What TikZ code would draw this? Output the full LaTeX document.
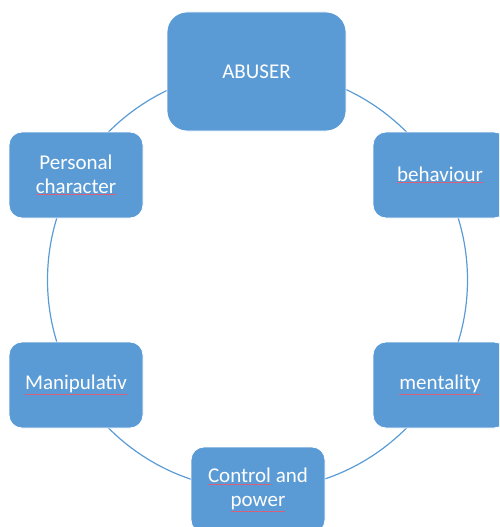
\documentclass[tikz,border=0pt]{standalone}
\usepackage{fontspec}
\setmainfont{Carlito}
\definecolor{boxblue}{HTML}{5B9BD5}
\definecolor{spell}{HTML}{D8607A}
\newcommand\sq[1]{{\setbox0\hbox{#1}\leavevmode\rlap{\color{spell}\rule[\dimexpr-\dp0-1.3pt\relax]{\wd0}{0.75pt}}\box0}}
\begin{document}
\begin{tikzpicture}[x=1pt,y=-1pt,
  box/.style={draw=white, line width=0.8pt, fill=boxblue, rounded corners=13pt,
    minimum width=134pt, minimum height=86pt, text=white, align=center,
    font=\fontsize{21}{24}\selectfont, inner sep=0pt},
  ring/.style={draw=boxblue, line width=1.2pt}]
\useasboundingbox (0,0) rectangle (499,527);
\clip (0,0) rectangle (499,527);
\coordinate (c) at (257.5,280);
\draw[ring] (c) circle[radius=210pt];
\node[box, minimum width=179pt, minimum height=119pt, rounded corners=20pt] (abuser) at (256.5,71.5) {ABUSER};
\node[box] (pers) at (76,175) {Personal\\\sq{character}};
\node[box] (beh) at (440,175) {\sq{behaviour}};
\node[box] (man) at (76,385) {\sq{Manipulativ}};
\node[box] (men) at (440,385) {\sq{mentality}};
\node[box] (ctrl) at (258,490) {\sq{Control} and\\{}\sq{power}};
\end{tikzpicture}
\end{document}
